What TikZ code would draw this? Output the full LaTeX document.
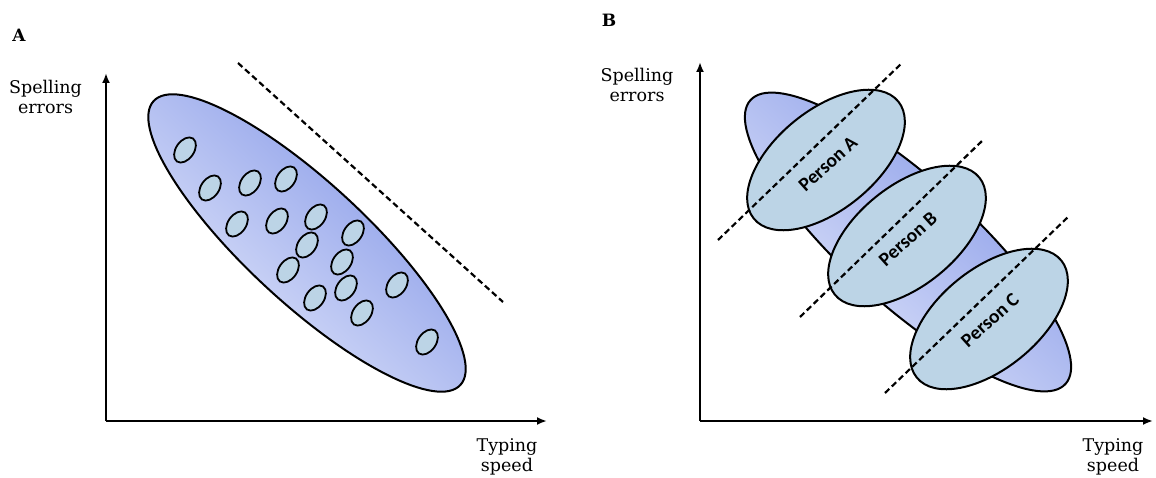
\documentclass[tikz,border=0pt]{standalone}
\usepackage{fontspec}
\setmainfont{DejaVu Serif}
\newfontfamily\personfont{Carlito}
\usetikzlibrary{arrows.meta,shapes.geometric}
\definecolor{bigdark}{RGB}{126,146,230}
\definecolor{biglight}{RGB}{232,236,252}
\definecolor{dotfill}{RGB}{188,212,230}
\begin{document}
\begin{tikzpicture}[x=1pt,y=1pt,
  axis/.style={line width=2.6pt,-{Latex[length=10pt,width=8pt]}},
  bigell/.style={ellipse,draw=black,line width=2pt,top color=bigdark,bottom color=biglight,inner sep=0pt},
  dot/.style={ellipse,draw=black,line width=1.8pt,fill=dotfill,minimum width=28,minimum height=18,inner sep=0pt,rotate=55},
  person/.style={ellipse,draw=black,line width=2pt,fill=dotfill,minimum width=186,minimum height=100,inner sep=0pt,rotate=39},
  ptext/.style={font=\personfont\bfseries\fontsize{19.5}{22}\selectfont,inner sep=0pt,rotate=42},
  guide/.style={line width=2.2pt,dash pattern=on 6pt off 3.5pt},
  axlabel/.style={font=\fontsize{17.5}{19.5}\selectfont,align=center,inner sep=0pt},
  panel/.style={font=\bfseries\fontsize{17}{18}\selectfont,inner sep=0pt}
]
\useasboundingbox (0,0) rectangle (1156,477);

% ---------- Panel A ----------
\node[panel] (labA) at (19,442) {A};
\coordinate (oA) at (106,56);
\coordinate (yA) at (106,404);
\coordinate (xA) at (547,56);
\draw[axis] (oA) -- (yA);
\draw[axis] (oA) -- (xA);
\node[axlabel] (spA) at (45.5,380) {Spelling\\errors};
\node[axlabel] (tyA) at (507,20) {Typing\\speed};

\node[bigell,minimum width=418,minimum height=120,rotate=-42.8,shading angle=-43] (bigA) at (307,234) {};

\foreach \p [count=\i] in {(185,327),(210,289),(250,294),(286,298),(237,253),(277,256),(316,260),(353,244),(307,232),(342,215),(288,207),(346,189),(315,179),(397,192),(362,164),(427,135)}
  \node[dot] (dA\i) at \p {};

\coordinate (gA1) at (238,414);
\coordinate (gA2) at (503,175);
\draw[guide] (gA1) -- (gA2);

% ---------- Panel B ----------
\node[panel] (labB) at (609,457) {B};
\coordinate (oB) at (700,56);
\coordinate (yB) at (700,415);
\coordinate (xB) at (1153,56);
\draw[axis] (oB) -- (yB);
\draw[axis] (oB) -- (xB);
\node[axlabel] (spB) at (637,392) {Spelling\\errors};
\node[axlabel] (tyB) at (1113,20) {Typing\\speed};

\node[bigell,minimum width=424,minimum height=126,rotate=-42,shading angle=-42] (bigB) at (908,235) {};

\node[person] (pA) at (826,317) {};
\coordinate (gB1a) at (718,237);
\coordinate (gB1b) at (902,414);
\draw[guide] (gB1a) -- (gB1b);
\node[ptext] (tA) at (828,313) {Person A};

\node[person] (pB) at (907,241) {};
\coordinate (gB2a) at (800,160);
\coordinate (gB2b) at (982,336);
\draw[guide] (gB2a) -- (gB2b);
\node[ptext] (tB) at (908,238) {Person B};

\node[person] (pC) at (989,158) {};
\coordinate (gB3a) at (885,84);
\coordinate (gB3b) at (1068,260);
\draw[guide] (gB3a) -- (gB3b);
\node[ptext] (tC) at (990,157) {Person C};
\end{tikzpicture}
\end{document}
